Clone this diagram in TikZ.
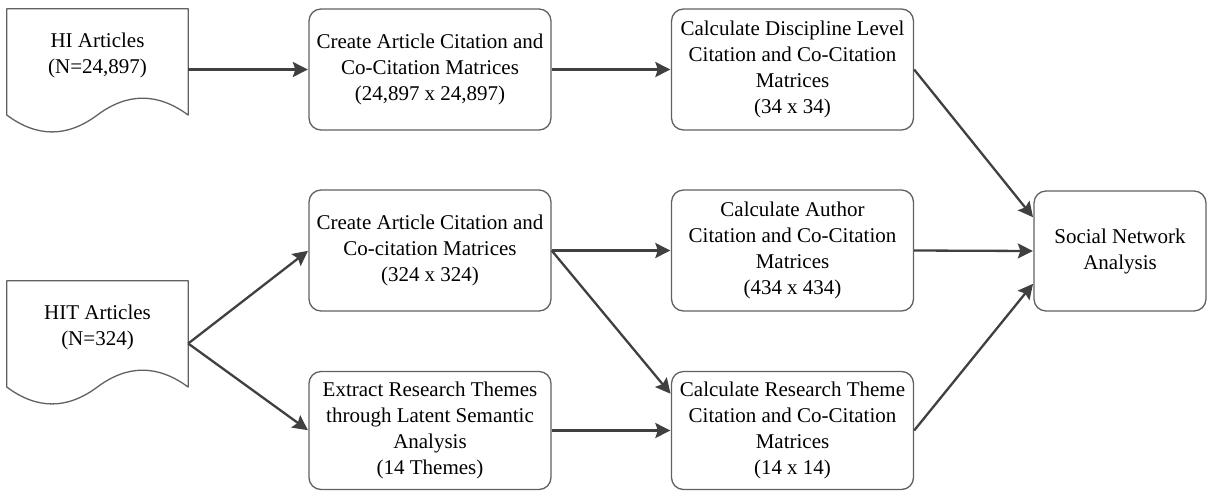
\documentclass[tikz,border=0pt]{standalone}
\usepackage{fontspec}
\setmainfont{Liberation Serif}
\usetikzlibrary{arrows.meta,calc}

\begin{document}
\begin{tikzpicture}[x=1pt,y=-1pt,
  every node/.style={font=\fontsize{21}{26}\selectfont, text=black},
  procbox/.style={draw=black!62, line width=1.3pt, rounded corners=12pt,
    align=center, inner sep=2pt, minimum width=242pt, minimum height=121pt},
  snabox/.style={procbox, minimum width=172pt, minimum height=120pt},
  docbox/.style={draw=none, inner sep=0pt, minimum width=181pt, minimum height=125pt},
  docline/.style={draw=black!62, line width=1.3pt, line join=round},
  flow/.style={draw=black!75, line width=2.3pt,
    -{Stealth[length=15pt, width=15pt, inset=2.5pt]}, shorten >=0.5pt}
]
\useasboundingbox (0,0) rectangle (1207,491);

% document-shaped sources: outline drawn from the node corners
\node[docbox] (hi)  at (97.5,71.5)  {};
\node[docbox] (hit) at (97.5,343.5) {};
\foreach \d in {hi,hit}{
  \draw[docline] (\d.north west) -- (\d.north east)
    -- ($(\d.north east)+(0,106.25)$)
    .. controls ($(\d.north west)+(150.83,83.75)$) and ($(\d.north west)+(120.67,83.75)$)
    .. ($(\d.north west)+(90.5,106.25)$)
    .. controls ($(\d.north west)+(60.33,128.75)$) and ($(\d.north west)+(30.17,128.75)$)
    .. ($(\d.north west)+(0,106.25)$) -- cycle;
}
\node[align=center] (hitext)  at ($(hi.north)+(0,47)$)  {HI Articles\\(N=24,897)};
\node[align=center] (hittext) at ($(hit.north)+(0,47)$) {HIT Articles\\(N=324)};

% processing steps
\node[procbox] (c1) at (430,69.5)   {Create Article Citation and\\Co-Citation Matrices\\(24,897 x 24,897)};
\node[procbox] (d1) at (792.5,69.5) {Calculate Discipline Level\\Citation and Co-Citation\\Matrices\\(34 x 34)};
\node[procbox] (c2) at (430,250.5)  {Create Article Citation and\\Co-citation Matrices\\(324 x 324)};
\node[procbox] (au) at (792.5,250.5) {Calculate Author\\Citation and Co-Citation\\Matrices\\(434 x 434)};
\node[procbox, minimum height=118pt] (ex) at (430,430.5)  {Extract Research Themes\\through Latent Semantic\\Analysis\\(14 Themes)};
\node[procbox, minimum height=118pt] (rt) at (792.5,430.5) {Calculate Research Theme\\Citation and Co-Citation\\Matrices\\(14 x 14)};
\node[snabox] (sna) at (1120,251) {Social Network\\Analysis};

% entry points on the left sides
\coordinate (snaTop) at ($(sna.north west)!0.225!(sna.south west)$);
\coordinate (snaBot) at ($(sna.north west)!0.767!(sna.south west)$);
\coordinate (rtTop)  at ($(rt.north west)!0.195!(rt.south west)$);

% connectors
\draw[flow] (hi.east |- c1.west) -- (c1.west);
\draw[flow] (c1.east) -- (d1.west);
\draw[flow] (d1.east) -- (snaTop);
\draw[flow] (hit.east) -- (c2.west);
\draw[flow] (hit.east) -- (ex.west);
\draw[flow] (c2.east) -- (au.west);
\draw[flow] (c2.east) -- (rtTop);
\draw[flow] (ex.east) -- (rt.west);
\draw[flow] (au.east) -- (sna.west);
\draw[flow] (rt.east) -- (snaBot);
\end{tikzpicture}
\end{document}
